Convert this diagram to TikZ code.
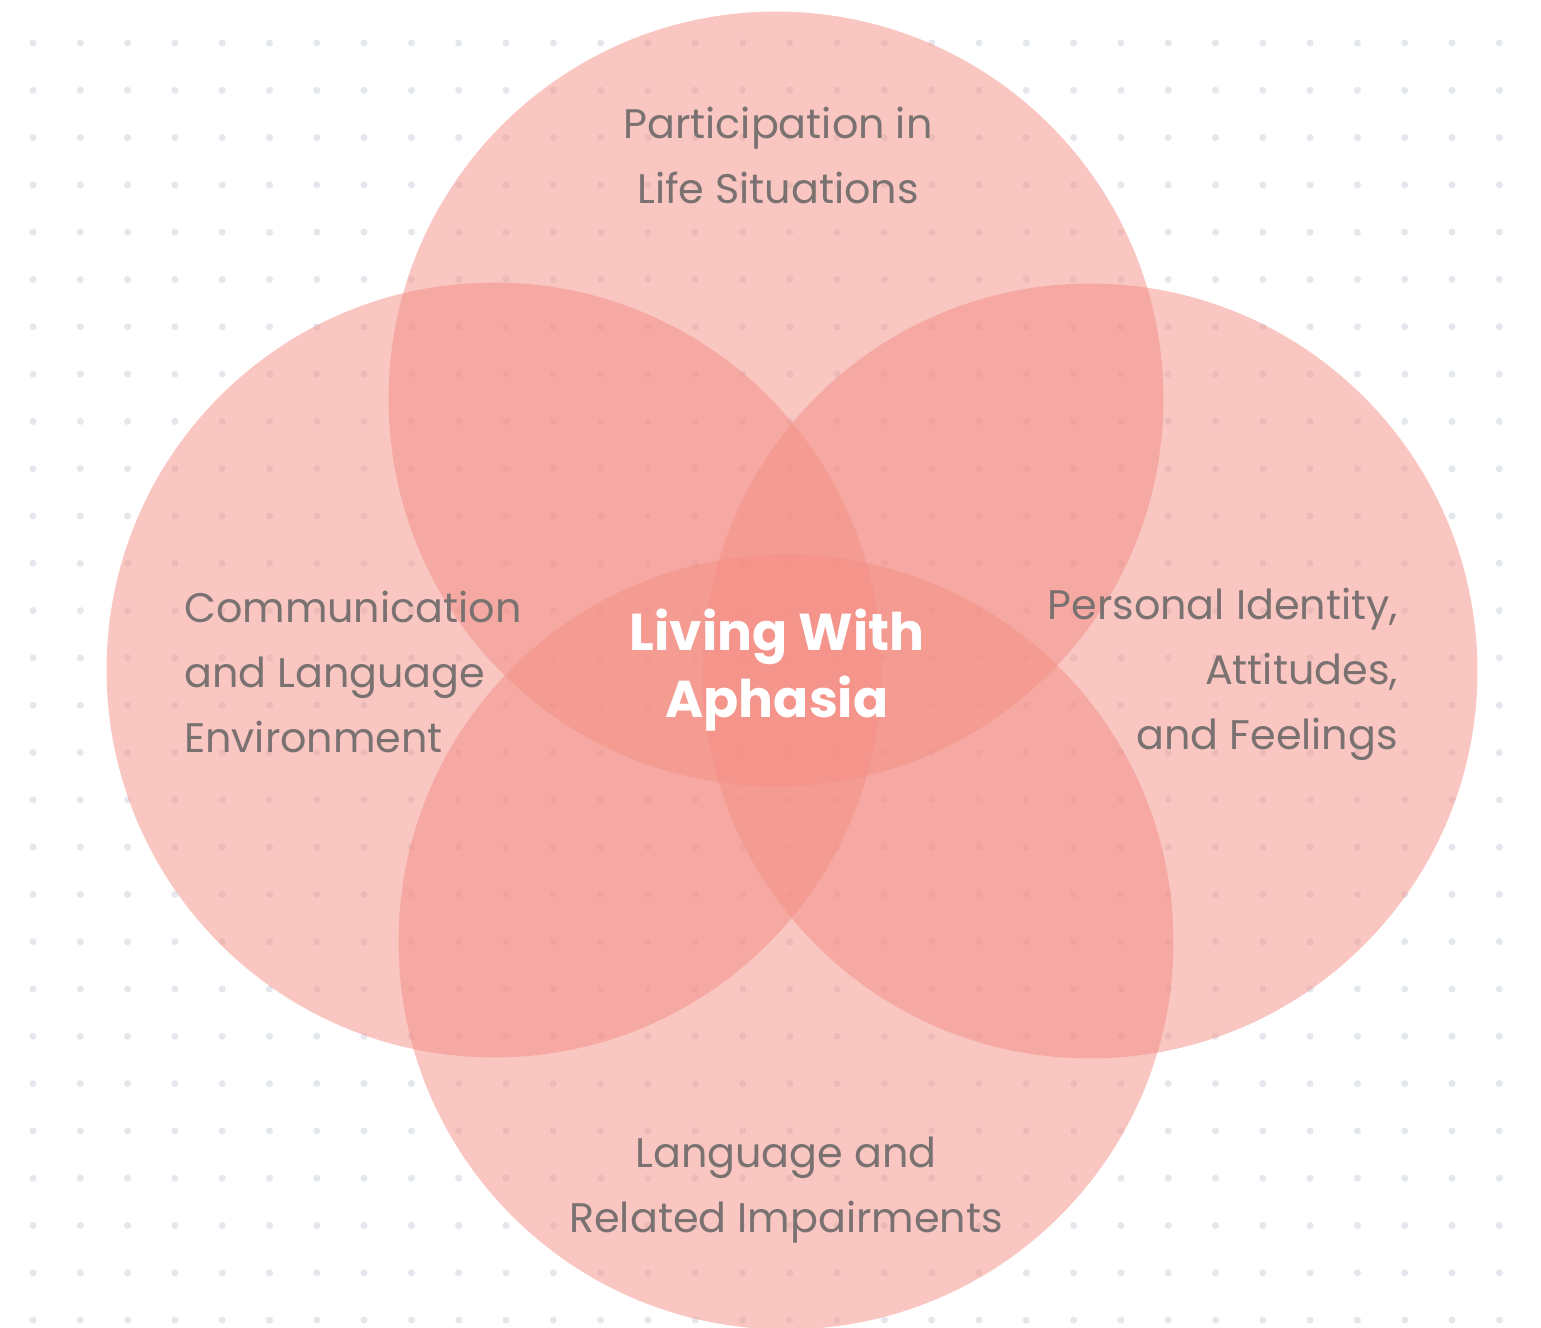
\documentclass[tikz,border=0pt]{standalone}
\usepackage{fontspec}
\setmainfont{Poppins}
\usetikzlibrary{positioning}
\definecolor{petalred}{RGB}{244,142,132}
\definecolor{dotgrey}{RGB}{228,231,236}
\definecolor{labelgrey}{RGB}{122,113,113}
\tikzstyle{petal} = [circle,fill=petalred,fill opacity=.5,minimum size=15.5cm,inner sep=0]
\tikzstyle{caption} = [text=labelgrey,font=\fontsize{23.5}{37}\selectfont]
\tikzstyle{core} = [text=white,font=\fontsize{29.5}{38}\selectfont\bfseries,align=center]

\begin{document}
\begin{tikzpicture}[x=0.02cm,y=-0.02cm]
	\useasboundingbox[fill=white] (0,0) rectangle (1541,1328);
	% dotted backdrop
	\foreach \i in {0,...,31}
		\foreach \j in {0,...,27}
			\fill[dotgrey] (33+47.3*\i,43+47.3*\j) circle (2pt);
	
	\node[petal] (life) at (776,399) {};
	\node[petal] (comm) at (494,670) {};
	\node[petal] (self) at (1090,671) {};
	\node[petal] (impair) at (786,942) {};
	
	\node[caption,align=center] (lifetxt) at (778,155) {Participation in\\Life Situations};
	\node[caption,align=left,anchor=west] (commtxt) at (178,672) {Communication\\and Language\\Environment};
	\node[caption,align=right,anchor=east] (selftxt) at (1404,674) {Personal Identity,\\Attitudes,\\and Feelings};
	\node[caption,align=center] (impairtxt) at (786,1190) {Language and\\Related Impairments};
	\node[core] (centre) at (777,670) {Living With\\Aphasia};
\end{tikzpicture}
\end{document}
